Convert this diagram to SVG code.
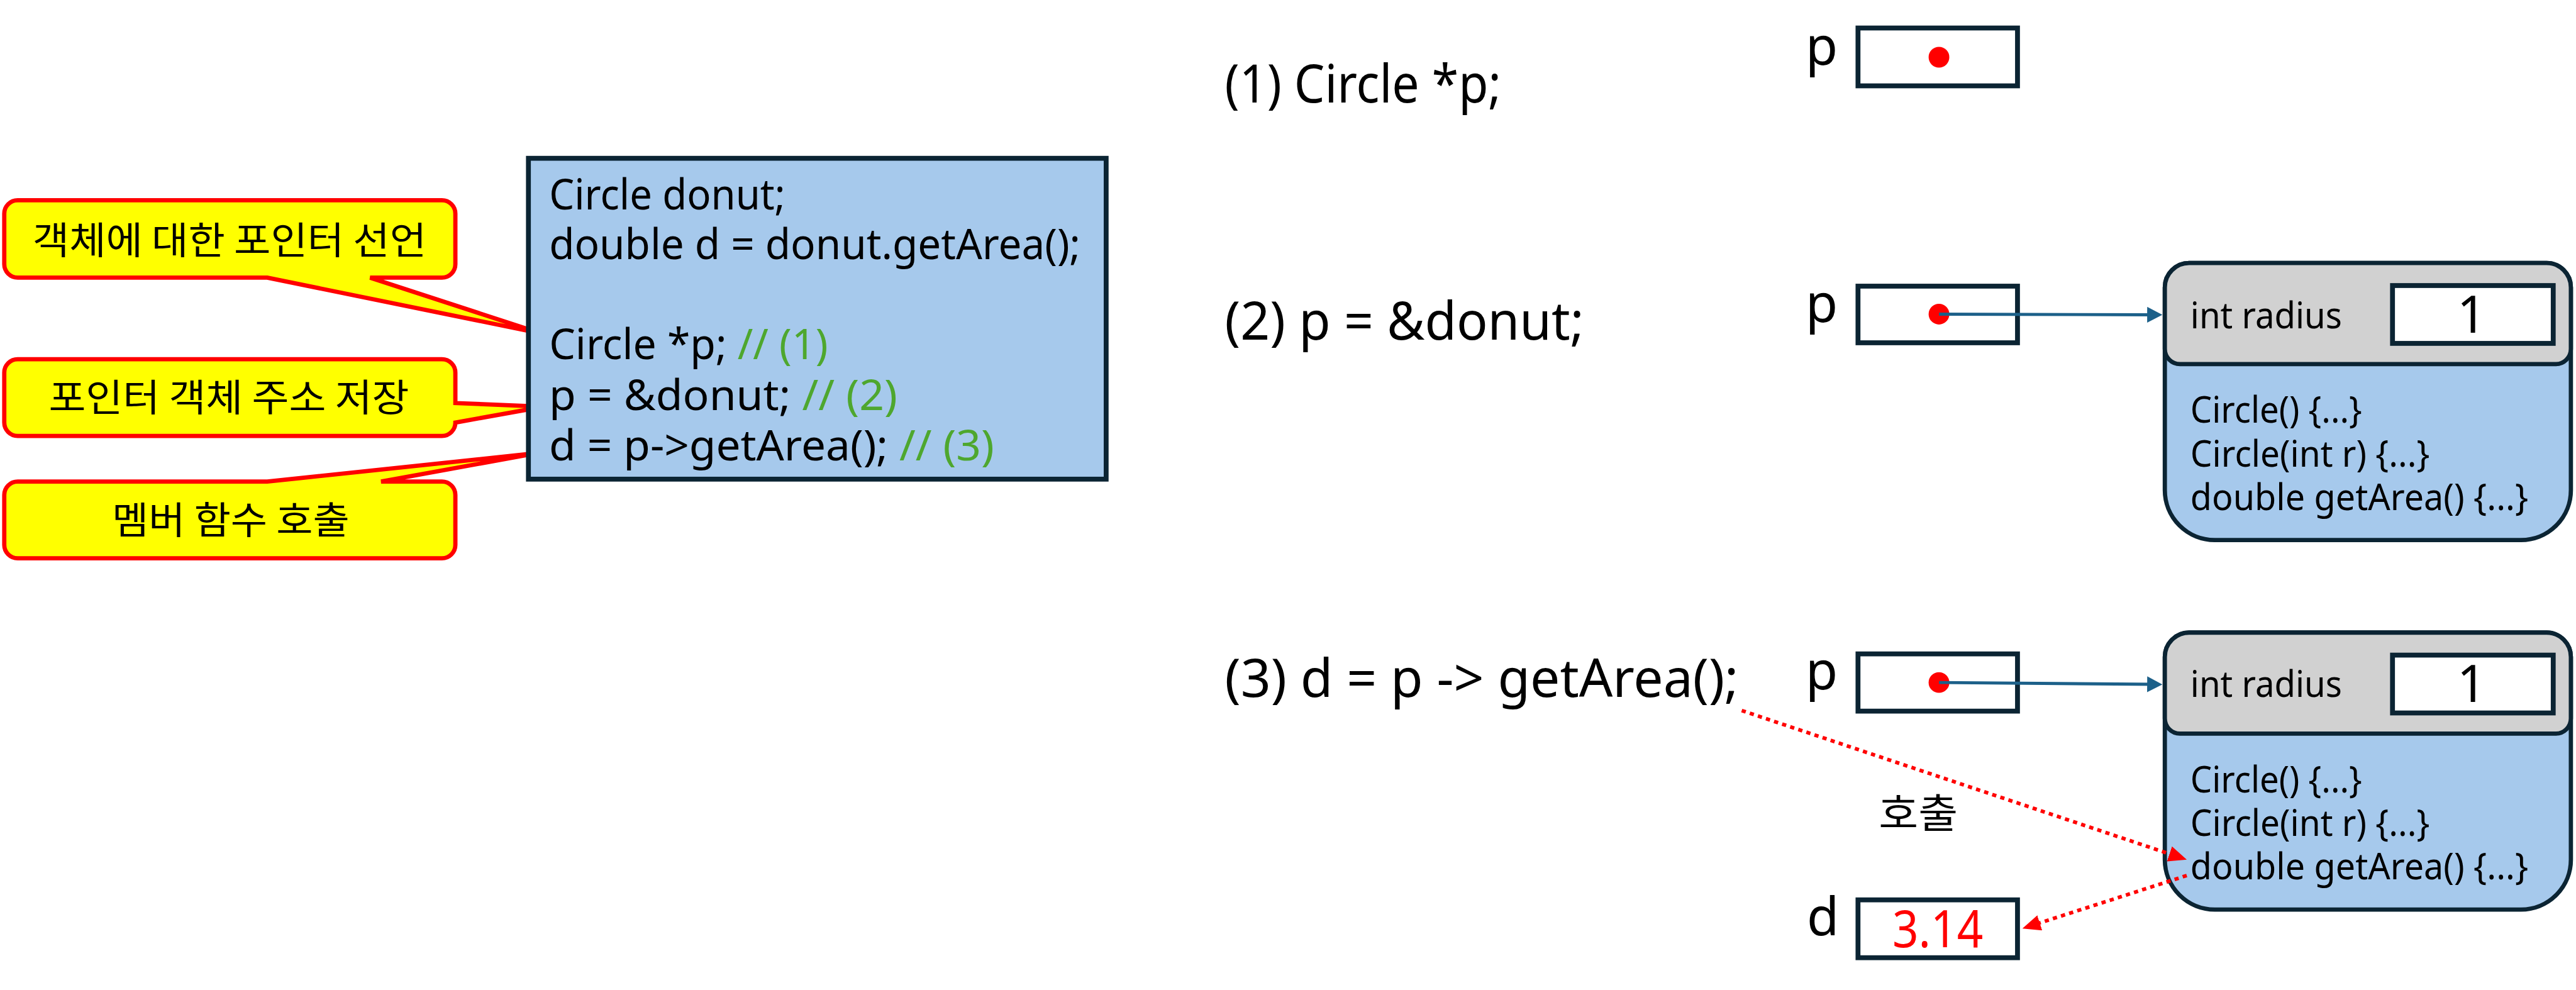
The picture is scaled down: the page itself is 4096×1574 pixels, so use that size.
<svg xmlns="http://www.w3.org/2000/svg" width="4096" height="1574" viewBox="0 0 4096 1574">
<style>
text { font-family: "Noto Sans", "Noto Sans CJK KR", sans-serif; fill: #000; }
.ko { font-family: "Noto Sans CJK KR", "Noto Sans", sans-serif; }
.code { font-size: 70px; }
.cm { fill: #4ea72e; }
.big { font-size: 86px; }
.mth { font-size: 60px; }
.val { font-size: 84px; }
.callout { fill: #ffff00; stroke: #ff0000; stroke-width: 7; }
.navy { stroke: #0b2433; stroke-width: 8; }
.obj { fill: #a6c9ec; stroke: #0b2433; stroke-width: 7; }
.hdr { fill: #d1d1d1; stroke: #0b2433; stroke-width: 7; }
.cell { fill: #ffffff; stroke: #0b2433; stroke-width: 8; }
.dot { fill: #ff0000; }
.ptr { stroke: #1c6089; stroke-width: 5; fill: none; }
.call { stroke: #ff0000; stroke-width: 6; stroke-dasharray: 7 7; fill: none; }
</style>
<defs>
<marker id="blueArrow" markerUnits="userSpaceOnUse" markerWidth="26" markerHeight="26" refX="13" refY="13" orient="auto">
<path d="M0,0 L25,13 L0,26 Z" fill="#1c6089"/>
</marker>
<marker id="redArrow" markerUnits="userSpaceOnUse" markerWidth="30" markerHeight="26" refX="15" refY="13" orient="auto">
<path d="M0,0 L30,13 L0,26 Z" fill="#ff0000"/>
</marker>
</defs>
<rect x="0" y="0" width="4096" height="1574" fill="#ffffff"/>
<g transform="scale(0.968)">

<g id="callout-declare">
<path class="callout" d="M29,329 H726 A22,22 0 0 1 748,351 V434 A22,22 0 0 1 726,456 H608 L890,548 L439,456 H29 A22,22 0 0 1 7,434 V351 A22,22 0 0 1 29,329 Z"/>
<text class="ko" x="377" y="417" font-size="62" text-anchor="middle" textLength="647" lengthAdjust="spacingAndGlyphs">객체에 대한 포인터 선언</text>
</g>
<g id="callout-store">
<path class="callout" d="M29,590 H726 A22,22 0 0 1 748,612 V662 L893,668 L748,694 A22,22 0 0 1 726,716 H29 A22,22 0 0 1 7,694 V612 A22,22 0 0 1 29,590 Z"/>
<text class="ko" x="376" y="676" font-size="62" text-anchor="middle" textLength="592" lengthAdjust="spacingAndGlyphs">포인터 객체 주소 저장</text>
</g>
<g id="callout-call">
<path class="callout" d="M29,791 H439 L884,744 L626,791 H726 A22,22 0 0 1 748,813 V895 A22,22 0 0 1 726,917 H29 A22,22 0 0 1 7,895 V813 A22,22 0 0 1 29,791 Z"/>
<text class="ko" x="379" y="877" font-size="62" text-anchor="middle" textLength="390" lengthAdjust="spacingAndGlyphs">멤버 함수 호출</text>
</g>

<g id="code-box">
<rect x="868" y="260" width="949" height="527" fill="#a6c9ec" class="navy"/>
<text class="code" x="902" y="344" textLength="388" lengthAdjust="spacingAndGlyphs">Circle donut;</text>
<text class="code" x="902" y="426" textLength="873" lengthAdjust="spacingAndGlyphs">double d = donut.getArea();</text>
<text class="code" x="902" y="590" textLength="458" lengthAdjust="spacingAndGlyphs">Circle *p; <tspan class="cm">// (1)</tspan></text>
<text class="code" x="902" y="674" textLength="572" lengthAdjust="spacingAndGlyphs">p = &amp;donut; <tspan class="cm">// (2)</tspan></text>
<text class="code" x="902" y="756" textLength="731" lengthAdjust="spacingAndGlyphs">d = p-&gt;getArea(); <tspan class="cm">// (3)</tspan></text>
</g>

<g id="step1-label"><text class="big" x="2012" y="168" textLength="454" lengthAdjust="spacingAndGlyphs">(1) Circle *p;</text></g>
<g id="step2-label"><text class="big" x="2012" y="558" textLength="590" lengthAdjust="spacingAndGlyphs">(2) p = &amp;donut;</text></g>
<g id="step3-label"><text class="big" x="2012" y="1145" textLength="844" lengthAdjust="spacingAndGlyphs">(3) d = p -&gt; getArea();</text></g>

<g id="p1">
<text class="big" x="2966" y="106">p</text>
<rect class="cell" x="3052" y="46" width="262" height="95"/>
<circle class="dot" cx="3185" cy="94" r="17"/>
</g>
<g id="p2">
<text class="big" x="2966" y="529">p</text>
<rect class="cell" x="3052" y="470" width="262" height="93"/>
<circle class="dot" cx="3185" cy="516" r="17"/>
</g>
<g id="p3">
<text class="big" x="2966" y="1132">p</text>
<rect class="cell" x="3052" y="1074" width="262" height="94"/>
<circle class="dot" cx="3185" cy="1121" r="17"/>
</g>
<g id="d-var">
<text class="big" x="2968" y="1536">d</text>
<rect class="cell" x="3052" y="1478" width="262" height="95"/>
<text class="val" x="3183" y="1556" text-anchor="middle" fill="#ff0000" style="fill:#ff0000" textLength="149" lengthAdjust="spacingAndGlyphs">3.14</text>
</g>

<g id="donut-1">
<path class="obj" d="M3596,432 H4183 A40,40 0 0 1 4223,472 V805 A82,82 0 0 1 4141,887 H3638 A82,82 0 0 1 3556,805 V472 A40,40 0 0 1 3596,432 Z"/>
<path class="hdr" d="M3596,432 H4183 A40,40 0 0 1 4223,472 V573 A25,25 0 0 1 4198,598 H3581 A25,25 0 0 1 3556,573 V472 A40,40 0 0 1 3596,432 Z"/>
<text class="mth" x="3598" y="539" textLength="249" lengthAdjust="spacingAndGlyphs">int radius</text>
<rect class="cell" x="3930" y="469" width="264" height="95"/>
<text class="val" x="4060" y="547" text-anchor="middle">1</text>
<text class="mth" x="3598" y="694" textLength="282" lengthAdjust="spacingAndGlyphs">Circle() {...}</text>
<text class="mth" x="3598" y="767" textLength="393" lengthAdjust="spacingAndGlyphs">Circle(int r) {...}</text>
<text class="mth" x="3598" y="838" textLength="555" lengthAdjust="spacingAndGlyphs">double getArea() {...}</text>
</g>

<g id="donut-2">
<path class="obj" d="M3596,1039 H4183 A40,40 0 0 1 4223,1079 V1412 A82,82 0 0 1 4141,1494 H3638 A82,82 0 0 1 3556,1412 V1079 A40,40 0 0 1 3596,1039 Z"/>
<path class="hdr" d="M3596,1039 H4183 A40,40 0 0 1 4223,1079 V1180 A25,25 0 0 1 4198,1205 H3581 A25,25 0 0 1 3556,1180 V1079 A40,40 0 0 1 3596,1039 Z"/>
<text class="mth" x="3598" y="1145" textLength="249" lengthAdjust="spacingAndGlyphs">int radius</text>
<rect class="cell" x="3930" y="1076" width="264" height="95"/>
<text class="val" x="4060" y="1153" text-anchor="middle">1</text>
<text class="mth" x="3598" y="1302" textLength="282" lengthAdjust="spacingAndGlyphs">Circle() {...}</text>
<text class="mth" x="3598" y="1373" textLength="393" lengthAdjust="spacingAndGlyphs">Circle(int r) {...}</text>
<text class="mth" x="3598" y="1444" textLength="555" lengthAdjust="spacingAndGlyphs">double getArea() {...}</text>
</g>

<g id="call-label">
<text class="ko" x="3151" y="1359" font-size="66" text-anchor="middle" textLength="130" lengthAdjust="spacingAndGlyphs">호출</text>
</g>

<g id="connectors">
<line class="ptr" x1="3185" y1="516" x2="3540" y2="517" marker-end="url(#blueArrow)"/>
<line class="ptr" x1="3185" y1="1121" x2="3540" y2="1124" marker-end="url(#blueArrow)"/>
<line class="call" x1="2861" y1="1167" x2="3577.8" y2="1407.2" marker-end="url(#redArrow)"/>
<line class="call" x1="3592" y1="1438" x2="3336.3" y2="1520.4" marker-end="url(#redArrow)"/>
</g>

</g>
</svg>
